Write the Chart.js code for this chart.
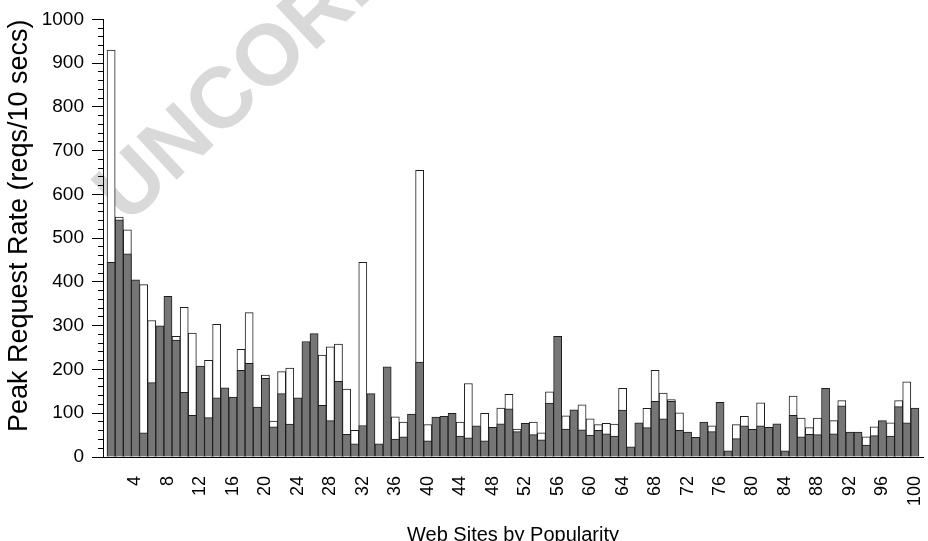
<!DOCTYPE html>
<html>
<head>
<meta charset="utf-8">
<script src="https://cdn.jsdelivr.net/npm/chart.js@4"></script>
<style>
  body { margin: 0; background: #fff; }
  #wrap { width: 928px; height: 541px; }
</style>
</head>
<body>
<div id="wrap"><canvas id="barCanvas"></canvas></div>
<script>
// sites ranked by popularity, 1..100
const sites = [];
for (let i = 1; i <= 100; i++) sites.push(i);

// dark bars (front)
const darkRates = [
  445, 542, 464, 405, 55, 170, 300, 367, 267, 148,
  95, 208, 90, 135, 158, 137, 198, 214, 114, 180,
  69, 145, 75, 135, 264, 282, 118, 83, 173, 52,
  30, 72, 145, 30, 206, 41, 46, 98, 217, 37,
  91, 93, 100, 48, 44, 71, 37, 68, 76, 110,
  58, 77, 51, 39, 123, 276, 64, 108, 62, 50,
  61, 53, 48, 107, 23, 78, 67, 127, 87, 127,
  61, 57, 45, 80, 58, 125, 14, 42, 71, 63,
  71, 68, 76, 14, 95, 46, 52, 51, 157, 53,
  117, 57, 57, 27, 49, 83, 48, 115, 78, 112
];

// white bars (behind), null where hidden by the dark bar
const whiteRates = [
  930, 548, 519, null, 394, 312, null, null, 276, 342,
  283, null, 221, 303, null, null, 246, 330, null, 187,
  82, 195, 203, null, null, null, 233, 252, 258, 155,
  61, 445, null, null, null, 92, 80, null, 655, 74,
  null, null, null, 80, 168, null, 100, null, 112, 143,
  64, null, 80, 55, 149, null, 94, null, 119, 87,
  74, 77, 75, 157, null, null, 111, 198, 146, 131,
  101, null, null, null, 71, null, null, 74, 93, null,
  124, null, null, null, 139, 89, 67, 89, null, 83,
  129, null, null, 46, 69, null, 78, 129, 172, null
];

// x tick labels
const xTicks = [4, 8, 12, 16, 20, 24, 28, 32, 36, 40, 44, 48, 52, 56, 60, 64, 68, 72, 76, 80, 84, 88, 92, 96, 100];
const yMax = 1000;

const toPoints = (vals) => sites.map((s, i) => ({ x: s, y: vals[i] }));

const watermark = {
  id: 'watermark',
  beforeDraw(chart) {
    const ctx = chart.ctx;
    ctx.save();
    ctx.fillStyle = '#fff';
    ctx.fillRect(0, 0, chart.width, chart.height);
    ctx.translate(127, 226);
    ctx.rotate(-43 * Math.PI / 180);
    ctx.font = 'bold 86px "Liberation Sans", Arial, sans-serif';
    ctx.fillStyle = '#d9d9d9';
    ctx.fillText('UNCORRECTED PROOF', 0, 0);
    ctx.restore();
  }
};

const fam = '"Liberation Sans", Arial, sans-serif';

new Chart(document.getElementById('barCanvas').getContext('2d'), {
  type: 'bar',
  data: {
    datasets: [
      {
        label: 'dark',
        data: toPoints(darkRates),
        backgroundColor: '#767676',
        borderColor: '#1e1e1e',
        borderWidth: 1,
        barPercentage: 1,
        categoryPercentage: 1,
        grouped: false,
        order: 1
      },
      {
        label: 'white',
        data: toPoints(whiteRates),
        backgroundColor: '#ffffff',
        borderColor: '#1e1e1e',
        borderWidth: 1,
        barPercentage: 1,
        categoryPercentage: 1,
        grouped: false,
        order: 2
      }
    ]
  },
  options: {
    responsive: true,
    maintainAspectRatio: false,
    animation: false,
    layout: { padding: { top: 17, right: 5, left: 0, bottom: 0 } },
    plugins: {
      legend: { display: false },
      tooltip: { enabled: false }
    },
    scales: {
      x: {
        type: 'linear',
        min: 0,
        max: 101,
        offset: false,
        grid: { display: false, offset: false, drawTicks: false },
        border: { display: true, color: '#000', width: 1 },
        afterBuildTicks: (scale) => { scale.ticks = xTicks.map(v => ({ value: v })); },
        ticks: {
          autoSkip: false,
          minRotation: 90,
          maxRotation: 90,
          padding: 19,
          color: '#000',
          font: { family: fam, size: 18 },
          callback: (v) => String(v)
        },
        title: {
          display: true,
          text: 'Web Sites by Popularity',
          color: '#000',
          font: { family: fam, size: 20, lineHeight: 1 },
          padding: { top: 0, bottom: -4 }
        },
        afterFit: (scale) => {
          scale.height = 84;
          scale.paddingLeft = 0;
          scale.paddingRight = 0;
        }
      },
      y: {
        min: 0,
        max: yMax,
        grid: { drawOnChartArea: false, tickLength: 11, color: '#000' },
        border: { display: true, color: '#000', width: 1 },
        ticks: { stepSize: 100, padding: 8, color: '#000', font: { family: fam, size: 19 }, callback: (v) => String(v) },
        title: {
          display: true,
          align: 'end',
          text: 'Peak Request Rate (reqs/10 secs)',
          color: '#000',
          font: { family: fam, size: 27, lineHeight: 1 },
          padding: { top: 6, bottom: 0 }
        },
        afterFit: (scale) => { scale.width = 103; }
      },
      yMinor: {
        position: { x: 0 },
        min: 0,
        max: yMax,
        grid: { drawOnChartArea: false, tickLength: 5, color: '#000' },
        border: { display: false },
        ticks: { stepSize: 20, display: false }
      }
    }
  },
  plugins: [watermark]
});
</script>
</body>
</html>
